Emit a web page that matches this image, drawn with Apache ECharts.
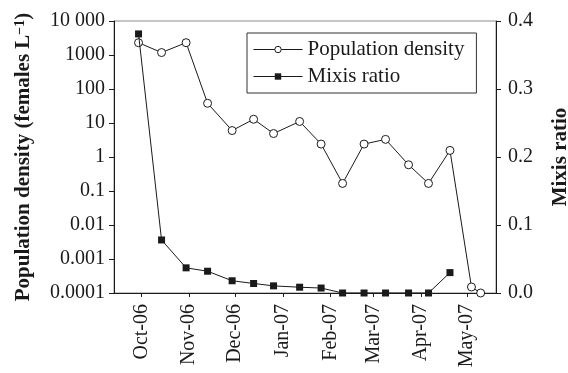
<!DOCTYPE html>
<html>
<head>
<meta charset="utf-8">
<script src="https://cdn.jsdelivr.net/npm/echarts@6/dist/echarts.min.js"></script>
<style>
html,body{margin:0;padding:0;background:#fff;}
#chart{width:568px;height:373px;}
</style>
</head>
<body>
<div id="chart"></div>
<script>
// ---- data ----
const sampleDates = ['2006-09-29','2006-10-14','2006-10-30','2006-11-13','2006-11-29','2006-12-13','2006-12-26','2007-01-12','2007-01-26','2007-02-09','2007-02-23','2007-03-09','2007-03-24','2007-04-06','2007-04-20','2007-05-04','2007-05-10'];
const populationDensity = [2300, 1180, 2300, 38, 6.0, 12.9, 4.9, 11.1, 2.4, 0.167, 2.4, 3.3, 0.59, 0.167, 1.56, 0.00015, 0.0001];
const mixisRatio = [0.381, 0.078, 0.037, 0.032, 0.018, 0.014, 0.0105, 0.0085, 0.0073, 0, 0, 0, 0, 0, 0.030, null, null];
const monthTicks = ['2006-10-01','2006-11-01','2006-12-01','2007-01-01','2007-02-01','2007-03-01','2007-04-01','2007-05-01'];
const monthLabels = ['Oct-06','Nov-06','Dec-06','Jan-07','Feb-07','Mar-07','Apr-07','May-07'];
const densityTicks = [0.0001, 0.001, 0.01, 0.1, 1, 10, 100, 1000, 10000];
const densityLabels = ['0.0001','0.001','0.01','0.1','1','10','100','1000','10 000'];
const mixisTicks = [0, 0.1, 0.2, 0.3, 0.4];
const mixisLabels = ['0.0','0.1','0.2','0.3','0.4'];
const xRange = ['2006-09-13', '2007-05-20'];

// day number (UTC days since epoch) so the x axis is a linear date scale
function toDay(s){ const p = s.split('-').map(Number); return Date.UTC(p[0], p[1]-1, p[2]) / 86400000; }
const tickDays = monthTicks.map(toDay);

const FONT = '"Liberation Serif","Times New Roman",serif';
const INK = '#1a1a1a';

const chart = echarts.init(document.getElementById('chart'));
chart.setOption({
  animation: false,
  textStyle: { fontFamily: FONT, color: INK },
  grid: {
    left: 114, right: 72, top: 21, bottom: 80,
    outerBoundsMode: 'none', containLabel: false,
    show: true, borderColor: '#8a8a8a', borderWidth: 1, backgroundColor: 'transparent'
  },
  legend: {
    orient: 'vertical', left: 247, top: 33,
    padding: [6, 12, 6, 6],
    itemGap: 6,
    itemWidth: 49, itemHeight: 8,
    lineStyle: { width: 1 },
    borderColor: '#333', borderWidth: 1,
    textStyle: { fontFamily: FONT, fontSize: 21, color: INK },
    data: [
      { name: 'Population density', itemStyle: { color: '#fff', borderColor: INK, borderWidth: 1 } },
      { name: 'Mixis ratio' }
    ]
  },
  xAxis: {
    type: 'value',
    min: toDay(xRange[0]), max: toDay(xRange[1]),
    axisLine: { show: true, onZero: false, lineStyle: { color: INK, width: 1 } },
    axisTick: { show: true, inside: false, length: 4, customValues: tickDays, lineStyle: { color: INK } },
    axisLabel: {
      customValues: tickDays,
      rotate: 90, margin: 11, fontSize: 20, fontFamily: FONT, color: INK,
      formatter: function (v) {
        const i = tickDays.findIndex(t => Math.abs(t - v) < 0.01);
        return i >= 0 ? monthLabels[i] : '';
      }
    },
    splitLine: { show: false }
  },
  yAxis: [{
    type: 'log', logBase: 10, min: 0.0001, max: 10000,
    name: '{b|Population density (females L}{s|\u22121}{b|)}',
    nameLocation: 'middle', nameGap: 79, nameRotate: 90,
    nameTextStyle: {
      rich: {
        b: { fontFamily: FONT, fontSize: 21, fontWeight: 'bold', color: INK },
        s: { fontFamily: FONT, fontSize: 14, fontWeight: 'bold', color: INK, verticalAlign: 'top', padding: [0,0,8,0] }
      }
    },
    axisLine: { show: true, lineStyle: { color: INK, width: 1 } },
    axisTick: { show: true, length: 5, customValues: densityTicks, lineStyle: { color: INK } },
    axisLabel: {
      customValues: densityTicks, margin: 9, fontSize: 20, fontFamily: FONT, color: INK,
      formatter: function (v) {
        const i = densityTicks.findIndex(t => Math.abs(Math.log10(t) - Math.log10(v)) < 1e-6);
        return i >= 0 ? densityLabels[i] : '';
      }
    },
    splitLine: { show: false }
  }, {
    type: 'value', min: 0, max: 0.4, interval: 0.1, position: 'right',
    name: 'Mixis ratio',
    nameLocation: 'middle', nameGap: 54, nameRotate: 90,
    nameTextStyle: { fontFamily: FONT, fontSize: 21, fontWeight: 'bold', color: INK },
    axisLine: { show: true, lineStyle: { color: INK, width: 1 } },
    axisTick: { show: true, length: 5, lineStyle: { color: INK } },
    axisLabel: {
      margin: 12, fontSize: 20, fontFamily: FONT, color: INK,
      formatter: function (v) {
        const i = mixisTicks.findIndex(t => Math.abs(t - v) < 1e-9);
        return i >= 0 ? mixisLabels[i] : '';
      }
    },
    splitLine: { show: false }
  }],
  series: [{
    name: 'Population density', type: 'line', yAxisIndex: 0, clip: false,
    data: sampleDates.map((d, i) => [toDay(d), populationDensity[i]]),
    symbol: 'circle', symbolSize: 8,
    lineStyle: { color: INK, width: 1 },
    itemStyle: { color: '#fff', borderColor: INK, borderWidth: 1 },
    z: 3
  }, {
    name: 'Mixis ratio', type: 'line', yAxisIndex: 1, clip: false,
    data: sampleDates.map((d, i) => [toDay(d), mixisRatio[i]]).filter(p => p[1] !== null),
    symbol: 'rect', symbolSize: 7,
    lineStyle: { color: INK, width: 1 },
    itemStyle: { color: INK, borderColor: INK, borderWidth: 0 },
    z: 4
  }]
});
</script>
</body>
</html>
